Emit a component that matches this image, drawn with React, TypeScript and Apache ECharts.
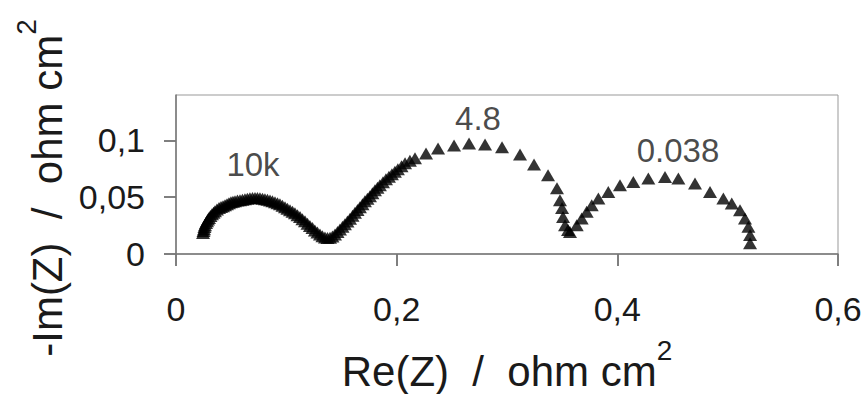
import React, { useEffect, useRef } from "react";
import * as echarts from "echarts";

// Nyquist data: [Re(Z), -Im(Z)] in ohm cm2
const arc1: number[][] = [
  [0.0245, 0.0184], [0.0249, 0.0202], [0.0254, 0.0219], [0.0258, 0.0237], [0.0263, 0.0254],
  [0.0272, 0.0272], [0.0281, 0.0289], [0.029, 0.0303], [0.0299, 0.0316], [0.0312, 0.0334],
  [0.0326, 0.0351], [0.034, 0.0364], [0.0353, 0.0377], [0.0371, 0.0391], [0.039, 0.0404],
  [0.0408, 0.0413], [0.0426, 0.0421], [0.0444, 0.043], [0.0462, 0.0439], [0.048, 0.0447],
  [0.0498, 0.0456], [0.0516, 0.0461], [0.0535, 0.0465], [0.0557, 0.047], [0.058, 0.0474],
  [0.0602, 0.0478], [0.0625, 0.0482], [0.0647, 0.0487], [0.067, 0.0491], [0.0693, 0.0493],
  [0.0716, 0.0493], [0.0738, 0.0493], [0.0761, 0.0491], [0.0784, 0.0487], [0.0806, 0.0482],
  [0.0829, 0.0478], [0.0852, 0.0471], [0.0874, 0.0464], [0.0897, 0.0456], [0.092, 0.0447],
  [0.0942, 0.0437], [0.0965, 0.0425], [0.0988, 0.0412], [0.101, 0.0399], [0.1033, 0.0386],
  [0.1056, 0.0373], [0.1078, 0.0358], [0.1101, 0.0342], [0.1124, 0.0325], [0.1146, 0.0307],
  [0.1169, 0.0288], [0.1192, 0.0267], [0.1214, 0.0246], [0.1237, 0.0228], [0.1259, 0.0208],
  [0.1282, 0.019], [0.1305, 0.0172], [0.1327, 0.0157], [0.135, 0.0146], [0.1373, 0.0141],
  [0.1396, 0.0143],
];

const arc2: number[][] = [
  [0.1418, 0.0154], [0.1441, 0.0172], [0.1464, 0.0194], [0.1486, 0.0216], [0.1509, 0.0239],
  [0.1531, 0.0262], [0.1554, 0.0286], [0.1577, 0.0311], [0.16, 0.0337], [0.1622, 0.0363],
  [0.1645, 0.0388], [0.1667, 0.0412], [0.169, 0.0438], [0.1712, 0.0465], [0.1735, 0.0487],
  [0.1758, 0.0509], [0.178, 0.0535], [0.1803, 0.0561], [0.1826, 0.0583], [0.1848, 0.0605],
  [0.1876, 0.0632], [0.1903, 0.0658], [0.193, 0.068], [0.1957, 0.0702], [0.1984, 0.0724],
  [0.2011, 0.0746], [0.2044, 0.0772], [0.2076, 0.0798], [0.212, 0.082], [0.2166, 0.0842],
  [0.2266, 0.0886], [0.2375, 0.093], [0.252, 0.0956], [0.2656, 0.0974], [0.2801, 0.0965],
  [0.2955, 0.0939], [0.3118, 0.0877], [0.3245, 0.0789], [0.3372, 0.0693], [0.3453, 0.0579],
  [0.348, 0.0474], [0.3499, 0.0404], [0.3508, 0.0325], [0.3526, 0.0254], [0.3553, 0.0211],
  [0.3571, 0.0193],
];

const arc3: number[][] = [
  [0.3632, 0.0254], [0.3677, 0.0313], [0.3722, 0.0371], [0.3768, 0.043], [0.3828, 0.0489],
  [0.3918, 0.0547], [0.4024, 0.0605], [0.4145, 0.0634], [0.4281, 0.0664], [0.4432, 0.0678],
  [0.4553, 0.0664], [0.4704, 0.062], [0.484, 0.0547], [0.4961, 0.0489], [0.5037, 0.0444],
  [0.5112, 0.0386], [0.5157, 0.0313], [0.5188, 0.024], [0.5203, 0.0167], [0.5203, 0.0094],
];

const xTicks = [0, 0.2, 0.4, 0.6];
const yTicks = [0, 0.05, 0.1];

const freqLabels = ["10k", "4.8", "0.038"];
const freqRe = [0.0698, 0.2737, 0.455];
const freqIm = [0.079, 0.119, 0.0912];

const FONT = "'Liberation Sans', Arial, Helvetica, sans-serif";
const TEXT = "#1a1a1a";
const AXIS = "#777";
const comma = (v: number) => String(v).replace(".", ",");

const titleRich = {
  a: { fontSize: 42, fontFamily: FONT, color: TEXT, fill: TEXT, verticalAlign: "bottom" },
  s: { fontSize: 28, fontFamily: FONT, color: TEXT, fill: TEXT, verticalAlign: "bottom", padding: [0, 0, 28, 0] },
};

export default function App() {
  const ref = useRef<HTMLDivElement>(null);

  useEffect(() => {
    const chart = echarts.init(ref.current!, null, { renderer: "svg" });
    const baseX = { type: "value", min: 0, max: 0.6, interval: 0.2, splitLine: { show: false } };
    const baseY = { type: "value", min: 0, max: 0.14, interval: 0.05, splitLine: { show: false } };
    const tickStyle = { color: AXIS, width: 1.5 };

    chart.setOption({
      animation: false,
      backgroundColor: "#ffffff",
      grid: {
        left: 176,
        right: 29,
        top: 95,
        bottom: 140,
        show: true,
        borderColor: "#999",
        borderWidth: 1,
      },
      xAxis: [
        {
          ...baseX,
          axisLine: { show: true, lineStyle: { color: AXIS, width: 1.5 } },
          axisTick: { show: true, length: 12, customValues: xTicks, lineStyle: tickStyle },
          axisLabel: {
            customValues: xTicks,
            formatter: comma,
            margin: 38,
            fontSize: 34,
            color: TEXT,
            fontFamily: FONT,
          },
          name: "{a|Re(Z)  /  ohm cm}{s|2}",
          nameLocation: "middle",
          nameGap: 82,
          nameTextStyle: { fontSize: 42, color: TEXT, fontFamily: FONT, rich: titleRich },
        },
        {
          ...baseX,
          axisLine: { show: false },
          axisTick: { show: true, inside: true, length: 12, customValues: xTicks, lineStyle: tickStyle },
          axisLabel: { show: false },
        },
      ],
      yAxis: [
        {
          ...baseY,
          axisLine: { show: true, lineStyle: { color: AXIS, width: 1.5 } },
          axisTick: { show: true, length: 12, customValues: yTicks, lineStyle: tickStyle },
          axisLabel: {
            customValues: yTicks,
            formatter: comma,
            margin: 31,
            fontSize: 34,
            color: TEXT,
            fontFamily: FONT,
          },
        },
        {
          ...baseY,
          axisLine: { show: false },
          axisTick: { show: true, inside: true, length: 12, customValues: yTicks, lineStyle: tickStyle },
          axisLabel: { show: false },
        },
      ],
      graphic: [
        {
          type: "text",
          x: 40,
          y: 188,
          rotation: Math.PI / 2,
          style: {
            text: "{a|-Im(Z)  /  ohm cm}{s|2}",
            rich: titleRich,
            fontSize: 42,
            fontFamily: FONT,
            fill: TEXT,
            align: "center",
            verticalAlign: "middle",
            textAlign: "center",
            textVerticalAlign: "middle",
          },
        },
      ],
      series: [
        {
          type: "scatter",
          xAxisIndex: 0,
          yAxisIndex: 0,
          symbol: "triangle",
          symbolSize: [14, 12],
          itemStyle: { color: "#000" },
          data: [...arc1, ...arc2, ...arc3],
          z: 3,
        },
        {
          type: "scatter",
          xAxisIndex: 0,
          yAxisIndex: 0,
          symbol: "circle",
          symbolSize: 1,
          itemStyle: { color: "rgba(0,0,0,0)" },
          label: {
            show: true,
            position: "inside",
            formatter: "{b}",
            fontSize: 33,
            color: TEXT,
            fontFamily: FONT,
          },
          data: freqLabels.map((n, i) => ({ name: n, value: [freqRe[i], freqIm[i]] })),
          z: 4,
        },
      ],
    });

    return () => chart.dispose();
  }, []);

  return (
    <div
      ref={ref}
      style={{ position: "absolute", left: 0, top: 0, width: 867, height: 394 }}
    />
  );
}
